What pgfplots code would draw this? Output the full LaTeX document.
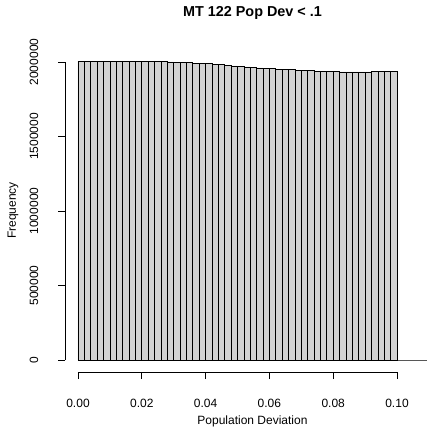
\documentclass[border=0pt]{standalone}
\usepackage{pgfplots}
\pgfplotsset{compat=1.18}
\usepackage{pgfplotstable}
\usepackage{fontspec}
\setmainfont{Liberation Sans}
\definecolor{rgray}{HTML}{D3D3D3}
\pgfplotstableread{
x y
0.000 2006000
0.002 2006000
0.004 2005500
0.006 2005500
0.008 2005000
0.010 2005000
0.012 2004500
0.014 2004500
0.016 2004000
0.018 2003500
0.020 2003000
0.022 2002500
0.024 2002000
0.026 2001000
0.028 2000000
0.030 1999000
0.032 1997500
0.034 1995500
0.036 1993000
0.038 1990500
0.040 1988000
0.042 1985000
0.044 1981500
0.046 1978000
0.048 1974000
0.050 1970500
0.052 1966500
0.054 1963000
0.056 1960000
0.058 1957500
0.060 1955000
0.062 1952500
0.064 1950000
0.066 1947500
0.068 1945500
0.070 1943500
0.072 1941500
0.074 1939500
0.076 1937500
0.078 1936000
0.080 1934500
0.082 1933500
0.084 1933000
0.086 1933500
0.088 1933000
0.090 1933000
0.092 1936500
0.094 1935000
0.096 1935000
0.098 1935000
0.100 0
0.102 0
0.104 0
0.106 0
0.108 0
0.110 0
0.112 0
0.114 0
0.116 0
0.118 0
0.120 0
}\histdata
\begin{document}
\fontsize{12}{14}\selectfont
\begin{tikzpicture}
\useasboundingbox (-65pt,-56pt) rectangle (362pt,372pt);
\begin{axis}[
  at={(0,0)}, anchor=south west,
  scale only axis, width=375pt, height=323pt,
  xmin=-0.004075, xmax=0.11348, ymin=-80537, ymax=2087248,
  clip=false,
  axis line style={draw=none},
  tick pos=left,
  tick align=outside,
  major tick length=7pt,
  tick style={black, line width=0.8pt},
  /pgf/number format/assume math mode=true,
  scaled ticks=false,
  xtick={0,0.02,0.04,0.06,0.08,0.1},
  xticklabels={0.00,0.02,0.04,0.06,0.08,0.10},
  ytick={0,500000,1000000,1500000,2000000},
  yticklabels={0,500000,1000000,1500000,2000000},
  xticklabel style={font=\fontsize{12}{14}\selectfont, anchor=center, yshift=-24pt},
  yticklabel style={font=\fontsize{12}{14}\selectfont, xshift=-24pt, rotate=90, anchor=center},
  xlabel={Population Deviation},
  ylabel={Frequency},
  xlabel style={font=\fontsize{12}{14}\selectfont, at={(axis description cs:0.5,-0.1517)}, anchor=center},
  ylabel style={font=\fontsize{12}{14}\selectfont, at={(axis description cs:-0.1387,0.5)}, anchor=center},
  title={MT 122 Pop Dev < .1},
  title style={font=\bfseries\fontsize{14.4}{17}\selectfont, at={(axis description cs:0.5,1.0929)}, anchor=center},
]
\addplot[ybar interval, fill=rgray, draw=black, line width=0.7pt] table[x=x, y=y] {\histdata};
\draw[line width=0.8pt] (axis cs:0,-80537) -- (axis cs:0.1,-80537);
\draw[line width=0.8pt] (axis cs:-0.004075,0) -- (axis cs:-0.004075,2000000);
\end{axis}
\end{tikzpicture}
\end{document}
